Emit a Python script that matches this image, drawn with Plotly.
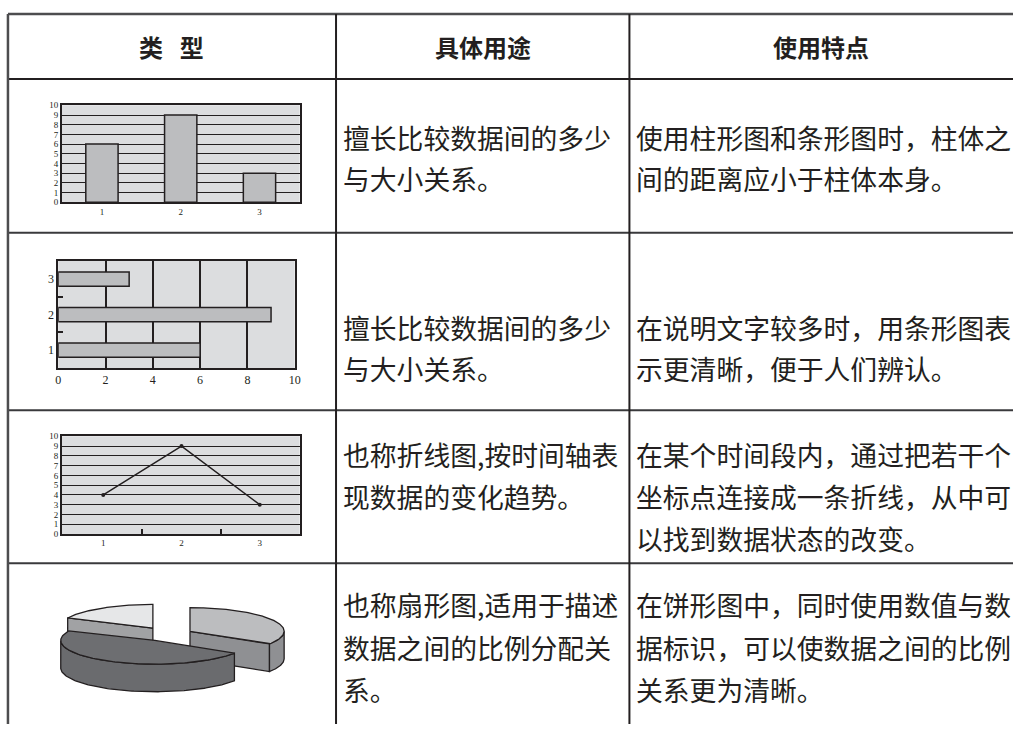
import numpy as np
import plotly.graph_objects as go

W, H = 1019, 729

# ---------------- data ----------------
bar_categories = [1, 2, 3]
bar_values = [6, 9, 3]

hbar_categories = [1, 2, 3]
hbar_values = [6, 9, 3]

line_categories = [1, 2, 3]
line_values = [4, 9, 3]

pie_labels = ["A", "B", "C"]
pie_values = [34, 48, 18]
pie_explode = [0.26, 0.30, 0.31]
pie_top_colors = ["#bcbdbf", "#6d6e71", "#e6e7e8"]
pie_side_colors = ["#8f9093", "#6a6b6e", "#a1a2a4"]

headers = ["类\u2002\u2009型", "具体用途", "使用特点"]
use_text = [
    ["擅长比较数据间的多少", "与大小关系。"],
    ["擅长比较数据间的多少", "与大小关系。"],
    ["也称折线图,按时间轴表", "现数据的变化趋势。"],
    ["也称扇形图,适用于描述", "数据之间的比例分配关", "系。"],
]
feature_text = [
    ["使用柱形图和条形图时，柱体之", "间的距离应小于柱体本身。"],
    ["在说明文字较多时，用条形图表", "示更清晰，便于人们辨认。"],
    ["在某个时间段内，通过把若干个", "坐标点连接成一条折线，从中可", "以找到数据状态的改变。"],
    ["在饼形图中，同时使用数值与数", "据标识，可以使数据之间的比例", "关系更为清晰。"],
]

# ---------------- layout helpers ----------------
def px(x):
    return x / W


def py(y):
    return 1 - y / H


INK = "#231f20"
SERIF = "Liberation Serif, DejaVu Serif, serif"
CJK = "Noto Sans CJK SC"

fig = go.Figure()

# chart 1: columns
fig.add_trace(go.Bar(x=bar_categories, y=bar_values, width=0.41,
                     marker=dict(color="#bcbdbf", line=dict(color=INK, width=1.5)),
                     xaxis="x", yaxis="y", showlegend=False, hoverinfo="skip"))

# chart 2: horizontal bars
fig.add_trace(go.Bar(x=hbar_values, y=hbar_categories, orientation="h", width=0.4,
                     marker=dict(color="#bcbdbf", line=dict(color=INK, width=1.5)),
                     xaxis="x2", yaxis="y2", showlegend=False, hoverinfo="skip"))

# chart 3: line
fig.add_trace(go.Scatter(x=line_categories, y=line_values, mode="lines+markers",
                         line=dict(color=INK, width=1.5), marker=dict(color=INK, size=4),
                         xaxis="x3", yaxis="y3", showlegend=False, hoverinfo="skip"))

# chart 4: 3-D style exploded pie, built from pie_values
cx, cy, ra, rb, depth = 167.0, 638.0, 95.0, 24.0, 28.0


def arc(ccx, ccy, t_from, t_to, n=120):
    t = np.radians(np.linspace(t_from, t_to, n))
    return ccx + ra * np.cos(t), ccy - rb * np.sin(t)


total = float(sum(pie_values))
start = 90.0
slices = []
for i, v in enumerate(pie_values):
    sweep = 360.0 * v / total
    t1 = start
    t0 = start - sweep
    mid = np.radians((t0 + t1) / 2)
    ccx = cx + pie_explode[i] * ra * np.cos(mid)
    ccy = cy - pie_explode[i] * rb * np.sin(mid)
    slices.append((ccy, i, t0, t1, ccx))
    start = t0

slices.sort()
for ccy, i, t0, t1, ccx in slices:
    polys = []
    # radial walls facing the viewer
    for t, nrm in ((t0, t0 - 90), (t1, t1 + 90)):
        if np.sin(np.radians(nrm)) < -1e-6:
            rx = ccx + ra * np.cos(np.radians(t))
            ry = ccy - rb * np.sin(np.radians(t))
            polys.append(([ccx, rx, rx, ccx, ccx], [ccy, ry, ry + depth, ccy + depth, ccy]))
    # outer curved wall (front half only)
    ts = np.linspace(t0, t1, 400)
    vis = ts[np.sin(np.radians(ts)) < 0]
    if len(vis) > 1:
        ax_, ay_ = arc(ccx, ccy, vis[0], vis[-1])
        xs = np.concatenate([ax_, ax_[::-1], ax_[:1]])
        ys = np.concatenate([ay_, ay_[::-1] + depth, ay_[:1]])
        polys.append((xs, ys))
    for xs, ys in polys:
        fig.add_trace(go.Scatter(x=xs, y=ys, mode="lines", fill="toself",
                                 fillcolor=pie_side_colors[i],
                                 line=dict(color=INK, width=1.3),
                                 xaxis="x4", yaxis="y4", showlegend=False, hoverinfo="skip"))
    ax_, ay_ = arc(ccx, ccy, t0, t1)
    fig.add_trace(go.Scatter(x=np.concatenate([[ccx], ax_, [ccx]]),
                             y=np.concatenate([[ccy], ay_, [ccy]]),
                             mode="lines", fill="toself", fillcolor=pie_top_colors[i],
                             line=dict(color=INK, width=1.3), name=pie_labels[i],
                             xaxis="x4", yaxis="y4", showlegend=False, hoverinfo="skip"))

tickfont_s = dict(family=SERIF, size=9, color=INK)
tickfont_m = dict(family=SERIF, size=12, color=INK)
axis_line = dict(showline=True, linecolor=INK, linewidth=1.5, mirror=True, zeroline=False)

layout = dict(
    width=W, height=H, margin=dict(l=0, r=0, t=0, b=0),
    paper_bgcolor="white", plot_bgcolor="white", showlegend=False,
    xaxis=dict(domain=[px(59.3), px(299.3)], anchor="y", range=[0.49, 3.51],
               tickvals=bar_categories, showgrid=False, ticks="", tickfont=tickfont_s,
               fixedrange=True, **axis_line),
    yaxis=dict(domain=[py(200), py(101.7)], anchor="x", range=[0, 10], dtick=1,
               showgrid=True, gridcolor=INK, gridwidth=1.2, ticks="", tickfont=tickfont_s,
               fixedrange=True, **axis_line),
    xaxis2=dict(domain=[px(55.7), px(294.3)], anchor="y2", range=[0, 10], dtick=2,
                showgrid=True, gridcolor=INK, gridwidth=1.5, ticks="",
                tickfont=tickfont_m, fixedrange=True, **axis_line),
    yaxis2=dict(domain=[py(368.3), py(259.3)], anchor="x2", range=[0.49, 3.52],
                tickvals=hbar_categories, showgrid=False, ticks="",
                minor=dict(tickvals=[1.5, 2.5], ticks="inside", ticklen=5, tickwidth=1.5,
                           tickcolor=INK, showgrid=False),
                tickfont=tickfont_m, fixedrange=True, **axis_line),
    xaxis3=dict(domain=[px(59.3), px(299.3)], anchor="y3", range=[0.47, 3.51],
                tickvals=line_categories, showgrid=False, ticks="",
                minor=dict(tickvals=[1.5, 2.5], ticks="inside", ticklen=5, tickwidth=1.5,
                           tickcolor=INK, showgrid=False),
                tickfont=tickfont_s, fixedrange=True, **axis_line),
    yaxis3=dict(domain=[py(536.3), py(437.3)], anchor="x3", range=[0, 10], dtick=1,
                showgrid=True, gridcolor=INK, gridwidth=1.2, ticks="", tickfont=tickfont_s,
                fixedrange=True, **axis_line),
    xaxis4=dict(domain=[px(20), px(320)], anchor="y4", range=[20, 320], visible=False,
                fixedrange=True),
    yaxis4=dict(domain=[0, py(575)], anchor="x4", range=[729, 575], visible=False,
                fixedrange=True),
)
fig.update_layout(**layout)

shapes = []
# gray plot backgrounds for the three small charts
for xr, yr in (("x", "y"), ("x2", "y2"), ("x3", "y3")):
    shapes.append(dict(type="rect", xref=xr + " domain", yref=yr + " domain",
                       x0=0, x1=1, y0=0, y1=1, fillcolor="#dcdddf",
                       line=dict(width=0), layer="below"))


# table rules
def hline(y, color, width):
    shapes.append(dict(type="line", xref="paper", yref="paper", x0=px(5), x1=1,
                       y0=py(y), y1=py(y), line=dict(color=color, width=width)))


def vline(x, color, width):
    shapes.append(dict(type="line", xref="paper", yref="paper", x0=px(x), x1=px(x),
                       y0=py(9), y1=0, line=dict(color=color, width=width)))


hline(9, "#4d4d4f", 2.5)
hline(75, INK, 2)
for yy in (231, 411, 566):
    hline(yy, "#3a3a3c", 2)
vline(5, "#4d4d4f", 2.5)
vline(336, INK, 2)
vline(632, INK, 2)
fig.update_layout(shapes=shapes)

ann = []
for txt, xc in zip(headers, (170, 484, 825)):
    ann.append(dict(text="<b>" + txt + "</b>", x=px(xc), y=py(42), xref="paper", yref="paper",
                    showarrow=False, xanchor="center", yanchor="middle",
                    font=dict(family=CJK, size=24, color=INK)))

row_y = [[134, 176], [327, 369], [456, 498, 541], [608, 651, 694]]
for r in range(4):
    for j, line in enumerate(use_text[r]):
        ann.append(dict(text=line, x=px(341), y=py(row_y[r][j]), xref="paper", yref="paper",
                        showarrow=False, xanchor="left", yanchor="middle",
                        font=dict(family=CJK, size=26.8, color=INK)))
    for j, line in enumerate(feature_text[r]):
        ann.append(dict(text=line, x=px(637), y=py(row_y[r][j]), xref="paper", yref="paper",
                        showarrow=False, xanchor="left", yanchor="middle",
                        font=dict(family=CJK, size=26.8, color=INK)))
fig.update_layout(annotations=ann)

fig.write_html("out.html", config={"displayModeBar": False},
               post_script="document.body.style.margin='0';document.body.style.overflow='hidden';")
